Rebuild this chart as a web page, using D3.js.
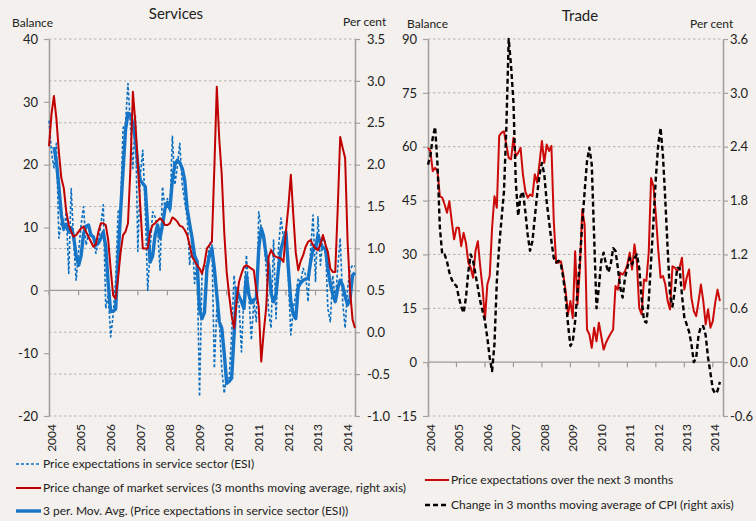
<!DOCTYPE html>
<html>
<head>
<meta charset="utf-8">
<script src="https://cdn.jsdelivr.net/npm/d3@7"></script>
<style>
	body{margin:0;background:#f3f0ed;}
	svg{display:block;font-family:Lato,"Open Sans",sans-serif;fill:#222;}
</style>
</head>
<body>
<div id="chart"></div>
<script>

var years=[2004,2005,2006,2007,2008,2009,2010,2011,2012,2013,2014]

var servicesLeftTicks=[40,30,20,10,0,-10,-20]
var servicesRightTicks=[3.5,3.0,2.5,2.0,1.5,1.0,0.5,0.0,-0.5,-1.0]
var tradeLeftTicks=[90,75,60,45,30,15,0,-15]
var tradeRightTicks=[3.6,3.0,2.4,1.8,1.2,0.6,0.0,-0.6]

// Services, monthly from Jan 2004, balance
var esiServices=[
	27,22,19.5,23.4,8.3,10.9,9.3,12.5,2.7,16.2,7.7,1.6,
	6.2,10.4,13.3,7.2,8.8,8.8,8.5,5.9,7.7,10.4,13.6,-2.9,
	-0.7,-7.4,-3.9,1.4,12.5,13,25.8,26.6,32.9,26.3,19.4,27.9,
	6.2,18.4,22.3,13,0,6.7,12.5,11.7,9.9,3.2,16.5,13,
	14.6,12.5,24.5,16.8,19.7,23.4,16.8,14.1,11.5,4,8.8,1.1,
	4.6,-16.9,2.4,4,3.5,7.5,7.7,-12.4,-2.9,-5,-12.4,-16.4,
	-13.5,-14,-7.1,2.4,-1.3,-2.3,-9.8,-0.7,5.6,-0.7,-7.9,-1.8,
	-5,12.5,9.9,8.8,3.5,-3.4,-6,8,-4.5,6.7,11.5,8.3,
	8.8,1.9,-7.1,-2.9,-0.7,1.9,1.4,3.5,2.4,-1.8,6.2,12,
	1.4,11.7,4,8.3,7.7,-2.9,-5,2.4,-1.8,3.5,8.3,-1.8,
	-6,0.3,3.2,4,3.8]

// 3 per. mov. avg. of the ESI series
var esiServicesAvg=[
	null,null,22.8,20.5,16.5,12,9.8,10.5,9.3,10,8.5,5.5,
	4,5.5,9,10.2,10.4,8.8,8.5,7.2,7.5,8.3,9.3,7,
	1,-3.4,-3.3,-3,5,12.5,19,25.5,28.2,28,26.5,24,
	20,17.5,17,16.5,10,4.5,5.5,8.8,10.4,8.3,10.4,13,
	14,13,17.5,20,20.7,20.3,19.4,17.5,13,10.5,8.3,5.5,
	4.6,-3,-4.5,-3.5,3.5,5.5,6.7,3.5,-0.7,-5,-6,-10,
	-14.8,-14.5,-14,-7,0.3,-1,-1.8,-2.9,2.4,-0.7,-2,-1.5,
	-1.3,6.7,9.9,8.5,5.5,4,-0.5,-1.8,-0.7,3.5,6.5,8,
	9.3,3.5,-1.8,-3.9,-4.5,0.5,1.2,1.6,1.8,1.9,4.5,6.7,
	6.7,8.8,7.5,6.7,6.7,3.5,1,-0.7,-1.8,0.3,1.6,0.8,
	-1,-2.3,-1.3,2.4,2.8]

// price change of market services, per cent (right axis)
var marketServicesPrice=[
	2.22,2.6,2.82,2.55,2.15,1.84,1.72,1.44,1.28,1.2,1.14,1.16,
	1.2,1.24,1.26,1.2,1.14,1.08,1.02,1.05,1.2,1.3,1.3,1.28,
	1.1,0.75,0.44,0.4,0.65,0.95,1.16,1.2,1.3,1.96,2.87,2.5,
	2.0,1.5,1.0,1.0,1.0,1.2,1.28,1.3,1.33,1.36,1.33,1.28,
	1.28,1.3,1.37,1.35,1.32,1.27,1.26,1.22,1.16,1.04,0.9,0.85,
	0.8,0.76,0.7,0.82,1.0,1.04,1.08,1.96,2.93,2.3,1.88,1.2,
	0.72,0.44,0.2,0.05,0.36,0.6,0.7,0.78,0.8,0.78,0.76,0.74,
	0.5,0.3,-0.35,0.0,0.29,0.9,0.98,0.92,0.9,0.89,0.88,0.84,
	1.2,1.5,1.88,1.4,0.95,0.74,0.85,0.92,1.02,1.08,1.1,1.04,
	1.0,0.98,1.05,1.16,1.05,0.96,0.76,0.72,0.72,1.48,2.33,2.2,
	2.08,1.08,0.5,0.15,0.05]

// Trade, monthly from Jan 2004, balance
var tradeExpectations=[
	59.7,58.8,53.2,54.1,53.2,46.2,45.8,43.9,41.6,44.8,39.3,34.2,
	37.4,37.4,32.3,36,33.2,27.7,26.3,23.5,30.9,33.7,26.7,20.7,
	11.9,21.6,24,37.4,46.2,43,63,63.9,64.3,60.6,56.9,56.5,
	62.5,57.4,58.3,59.7,52.3,47.6,45.8,46.7,46.2,52.3,50,55.5,
	61.6,55.5,60.6,58.8,60.2,39.3,27.7,27.7,28.1,24.4,19.8,13.3,
	17,12.3,30.9,16.1,26.3,42.5,38.3,9.1,7.7,4,9.6,5.8,
	11,7.2,3.5,5.4,6.8,8,9.1,21.2,20.2,24.9,24.4,25.3,
	27.2,30.5,25.8,32.8,28,15.1,13.3,23,22.6,30.5,51.3,49,
	41.1,31.4,23.5,24,21.6,17,14.7,26.7,26.3,25.3,26.3,29.1,
	20.2,23.5,25.8,17.9,14.2,12.8,17,21.6,17,10.5,14.7,9.6,
	11.4,16.5,20.2,17]

// change in 3 months moving average of CPI, per cent (right axis)
var cpiChange=[
	2.2,2.3,2.5,2.62,2.2,1.5,1.2,1.2,1.12,1.0,0.92,0.87,
	0.85,0.72,0.62,0.55,0.72,1.01,1.2,1.13,0.98,0.83,0.68,0.57,
	0.46,0.27,0.05,-0.1,0.2,0.9,1.3,1.6,1.9,2.6,3.6,3.3,
	2.9,2.0,1.63,1.85,1.9,1.68,1.42,1.24,1.35,1.61,1.87,2.09,
	2.22,2.09,1.79,1.57,1.35,1.16,1.11,1.13,1.09,0.94,0.72,0.42,
	0.18,0.23,0.46,0.79,1.13,1.55,1.9,2.24,2.39,2.2,1.4,0.6,
	0.83,1.13,1.22,1.09,1.0,1.09,1.27,1.24,1.05,0.83,0.72,0.94,
	1.05,1.16,1.09,1.16,1.2,1.05,0.72,0.46,0.44,0.68,1.13,1.57,
	2.05,2.42,2.61,2.3,1.8,1.25,0.75,0.62,0.8,1.05,1.05,0.75,
	0.5,0.42,0.34,0.2,0.0,0.05,0.3,0.4,0.4,0.3,0.05,-0.12,
	-0.3,-0.35,-0.32,-0.22]


class DualAxisChart{

	constructor(cfg){
		this.cfg=cfg
		this.graph={}
	}

	draw(svg){
		this.graph.g=svg.append("g")
		this.setScales()
		this.drawGrid()
		this.drawAxis()
		this.drawLines()
		this.drawTexts()
		this.drawLegend()
	}

	setScales(){
		var c=this.cfg
		this.graph.x=d3.scaleLinear().domain([0,c.months]).range([c.x0,c.x1])
		this.graph.yLeft=d3.scaleLinear().domain(c.leftDomain).range([c.bottom,c.top])
		this.graph.yRight=d3.scaleLinear().domain(c.rightDomain).range([c.bottom,c.top])
	}

	drawGrid(){
		var c=this.cfg, thi=this
		var zeroY=this.graph.yLeft(0)

		this.graph.g.selectAll(".grid")
			.data(c.rightTicks.filter(d=>Math.abs(thi.graph.yRight(d)-zeroY)>1))
			.enter()
			.append("line")
			.attr("class","grid")
			.attr("x1",c.x0)
			.attr("x2",c.x1)
			.attr("y1",d=>thi.graph.yRight(d))
			.attr("y2",d=>thi.graph.yRight(d))
			.attr("stroke","#b3b1ae")
			.attr("stroke-width",1)
			.attr("stroke-dasharray","2.5,2.5")

		// category axis crosses at zero
		this.graph.g.append("line")
			.attr("x1",c.x0).attr("x2",c.x1)
			.attr("y1",zeroY).attr("y2",zeroY)
			.attr("stroke","#9c9a98")
			.attr("stroke-width",1.3)

		this.graph.g.selectAll(".ytick")
			.data(years)
			.enter()
			.append("line")
			.attr("x1",(d,i)=>thi.graph.x(i*12))
			.attr("x2",(d,i)=>thi.graph.x(i*12))
			.attr("y1",zeroY)
			.attr("y2",zeroY+5)
			.attr("stroke","#9c9a98")
			.attr("stroke-width",1.2)
	}

	drawAxis(){
		var c=this.cfg

		var gl=this.graph.g.append("g")
			.attr("transform","translate("+c.x0+",0)")
			.call(d3.axisLeft(this.graph.yLeft).tickValues(c.leftTicks).tickSize(5).tickSizeOuter(0).tickPadding(6).tickFormat(d=>String(d)))

		var gr=this.graph.g.append("g")
			.attr("transform","translate("+c.x1+",0)")
			.call(d3.axisRight(this.graph.yRight).tickValues(c.rightTicks).tickSize(5).tickSizeOuter(0).tickPadding(c.rightPad).tickFormat(d=>d.toFixed(1)))

		for(let a of [gl,gr]){
			a.select(".domain").attr("stroke","#a3a19f").attr("stroke-width",1.6)
			a.selectAll(".tick line").attr("stroke","#a3a19f").attr("stroke-width",1.2)
			a.selectAll(".tick text")
				.attr("fill","#222")
				.style("font-family","Lato, sans-serif")
				.style("font-size","13px")
		}

		var thi=this
		this.graph.g.selectAll(".year")
			.data(years)
			.enter()
			.append("text")
			.attr("transform",(d,i)=>"translate("+(thi.graph.x(i*12)+2.5)+","+(c.bottom+8)+") rotate(-90)")
			.attr("text-anchor","end")
			.attr("dy","0.35em")
			.style("font-size","12px")
			.text(d=>d)
	}

	drawLines(){
		var thi=this
		for(let s of this.cfg.series){
			var y=s.axis=="right"?this.graph.yRight:this.graph.yLeft
			var line=d3.line()
				.defined(d=>d!=null)
				.x((d,i)=>thi.graph.x(i))
				.y(d=>y(d))
			this.graph.g.append("path")
				.datum(s.values)
				.attr("fill","none")
				.attr("stroke",s.color)
				.attr("stroke-width",s.width)
				.attr("stroke-dasharray",s.dash||null)
				.attr("stroke-linejoin","round")
				.attr("d",line)
		}
	}

	drawTexts(){
		var c=this.cfg
		this.graph.g.append("text")
			.attr("x",c.titleX).attr("y",c.titleY)
			.attr("text-anchor","middle")
			.style("font-size","15px")
			.text(c.title)

		this.graph.g.append("text")
			.attr("x",c.leftUnit[0]).attr("y",c.leftUnit[1])
			.style("font-size","12px")
			.text("Balance")

		this.graph.g.append("text")
			.attr("x",c.rightUnit[0]).attr("y",c.rightUnit[1])
			.style("font-size","12px")
			.text("Per cent")
	}

	drawLegend(){
		var items=this.graph.g.selectAll(".legend")
			.data(this.cfg.legend)
			.enter()
			.append("g")
			.attr("transform",d=>"translate("+d.x+","+d.y+")")

		items.append("line")
			.attr("x1",0).attr("x2",d=>d.len)
			.attr("stroke",d=>d.series.color)
			.attr("stroke-width",d=>d.series.legendWidth||d.series.width)
			.attr("stroke-dasharray",d=>d.series.dash||null)

		items.append("text")
			.attr("x",d=>d.len+2)
			.attr("dy","0.35em")
			.style("font-size","12px")
			.text(d=>d.label)
	}
}


var esiStyle={values:esiServices,axis:"left",color:"#0a6fc2",width:1.6,dash:"3,2"}
var avgStyle={values:esiServicesAvg,axis:"left",color:"#1675c6",width:3.4}
var marketStyle={values:marketServicesPrice,axis:"right",color:"#c00000",width:2}
var tradeStyle={values:tradeExpectations,axis:"left",color:"#cc0a0a",width:2}
var cpiStyle={values:cpiChange,axis:"right",color:"#000",width:2.4,dash:"5,3"}

var services=new DualAxisChart({
	title:"Services",titleX:176,titleY:19,
	leftUnit:[12,27],rightUnit:[343,26],
	x0:49,x1:355,top:39,bottom:416,months:124,
	leftDomain:[-20,40],rightDomain:[-1,3.5],
	leftTicks:servicesLeftTicks,rightTicks:servicesRightTicks,rightPad:7,
	series:[esiStyle,avgStyle,marketStyle],
	legend:[
		{series:esiStyle,label:"Price expectations in service sector (ESI)",x:16,y:464,len:25},
		{series:marketStyle,label:"Price change of market services (3 months moving average, right axis)",x:16,y:488,len:25},
		{series:avgStyle,label:"3 per. Mov. Avg. (Price expectations in service sector (ESI))",x:16,y:511,len:25}
	]
})

var trade=new DualAxisChart({
	title:"Trade",titleX:580,titleY:21,
	leftUnit:[407,28],rightUnit:[690,28],
	x0:428,x1:723,top:39,bottom:416,months:124.3,
	leftDomain:[-15,90],rightDomain:[-0.6,3.6],
	leftTicks:tradeLeftTicks,rightTicks:tradeRightTicks,rightPad:2,
	series:[tradeStyle,cpiStyle],
	legend:[
		{series:tradeStyle,label:"Price expectations over the next 3 months",x:425,y:480,len:24},
		{series:cpiStyle,label:"Change in 3 months moving average of CPI (right axis)",x:425,y:505,len:24}
	]
})

var svg=d3.select("#chart").append("svg")
	.attr("width",756)
	.attr("height",521)

services.draw(svg)
trade.draw(svg)

</script>
</body>
</html>
